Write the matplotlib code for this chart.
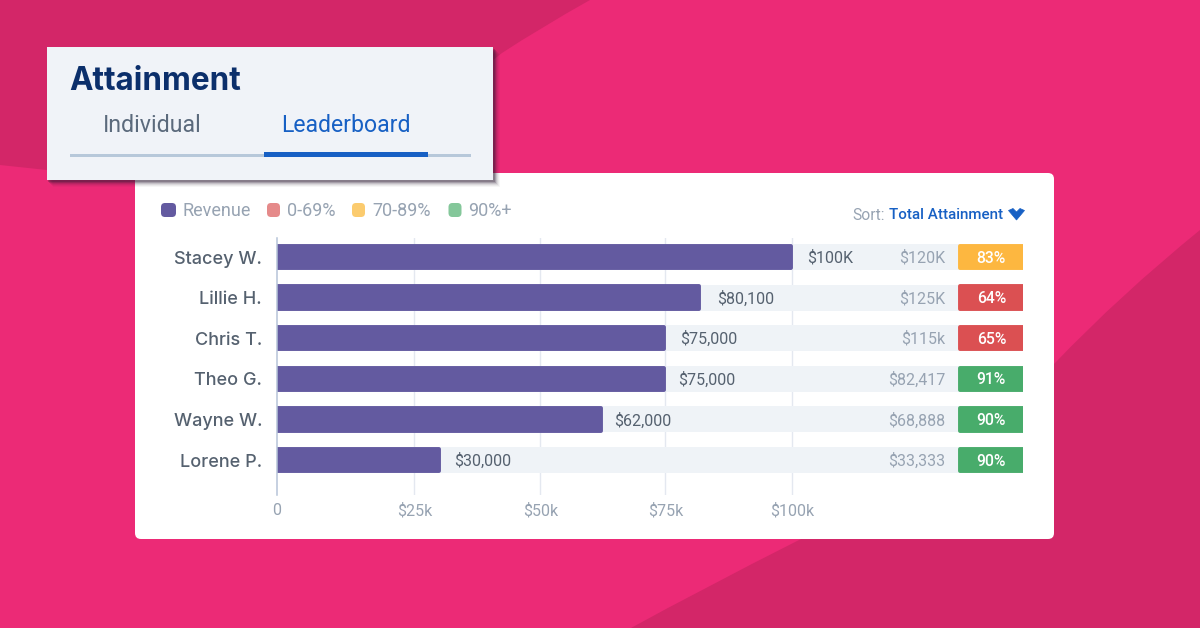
import numpy as np
import matplotlib
matplotlib.use("Agg")
import matplotlib.pyplot as plt
from matplotlib.patches import FancyBboxPatch, Polygon, Rectangle, PathPatch
from matplotlib.path import Path

# ---- data ----
names = ["Stacey W.", "Lillie H.", "Chris T.", "Theo G.", "Wayne W.", "Lorene P."]
revenue = [100000, 81900, 75000, 75000, 62400, 30200]
revenue_labels = ["$100K", "$80,100", "$75,000", "$75,000", "$62,000", "$30,000"]
target_labels = ["$120K", "$125K", "$115k", "$82,417", "$68,888", "$33,333"]
attainment = [83, 64, 65, 91, 90, 90]
tick_values = [0, 25000, 50000, 75000, 100000]
tick_labels = ["0", "$25k", "$50k", "$75k", "$100k"]
legend_labels = ["Revenue", "0-69%", "70-89%", "90%+"]
track_end = 144800
badge_start = 132000

PINK, DARK = "#EC2A76", "#D32668"
PURPLE = "#635AA0"
TRACK = "#EFF3F7"
GREY = "#97A3B2"
SLATE = "#55616F"
BLUE = "#1760C4"
NAVY = "#0B2F6B"

def badge_color(p):
    return "#DB5052" if p < 70 else ("#FDB740" if p < 90 else "#48AC6B")

fig = plt.figure(figsize=(12, 6.28), dpi=100)
fig.patch.set_facecolor(PINK)

# page layer in pixel coordinates
bg = fig.add_axes([0, 0, 1, 1])
bg.set_xlim(0, 1200)
bg.set_ylim(628, 0)
bg.axis("off")

bg.add_patch(PathPatch(Path(
    [(0, 0), (590, 0), (540, 28), (502, 53), (493, 60), (493, 170), (47, 170), (0, 165), (0, 0)],
    [Path.MOVETO, Path.LINETO, Path.CURVE3, Path.CURVE3, Path.LINETO, Path.LINETO, Path.LINETO, Path.LINETO, Path.CLOSEPOLY]),
    fc=DARK, ec="none"))
bg.add_patch(PathPatch(Path(
    [(1200, 230), (1120, 295), (1055, 363), (930, 480), (799, 540), (700, 590), (631, 628),
     (1200, 628), (1200, 230)],
    [Path.MOVETO, Path.CURVE3, Path.CURVE3, Path.CURVE3, Path.CURVE3, Path.CURVE3, Path.CURVE3,
     Path.LINETO, Path.CLOSEPOLY]),
    fc=DARK, ec="none"))

# chart card
bg.add_patch(FancyBboxPatch((139, 177), 911, 358, boxstyle="round,pad=4,rounding_size=6",
                            fc="white", ec="none"))

# header card with soft shadow
for off, a in [(7, 0.04), (6, 0.06), (5, 0.08), (4, 0.12), (3, 0.2), (2, 0.25)]:
    bg.add_patch(Rectangle((47 + off - 1, 47 + off), 446 + 1, 133, fc="#2A1A30", ec="none", alpha=a))
bg.add_patch(Rectangle((47, 47), 446, 133, fc="#F0F3F8", ec="none"))
bg.text(69.5, 81.5, "Attainment", family="Inter", weight="bold", fontsize=22.7, color=NAVY,
        va="center", ha="left")
bg.text(103, 125.5, "Individual", family="Roboto", fontsize=16.7, color="#5B6A7C", va="center", ha="left")
bg.text(281.5, 125.5, "Leaderboard", family="Roboto", fontsize=16.6, color=BLUE, va="center", ha="left")
bg.add_patch(Rectangle((70, 154), 401, 2.5, fc="#B7C8DA", ec="none"))
bg.add_patch(Rectangle((264, 151.5), 164, 5.5, fc=BLUE, ec="none"))

# legend
legend_swatches = [PURPLE, "#E58A8A", "#FBCB6E", "#84C79A"]
swatch_x = [161, 267, 352, 448.5]
label_x = [183, 287, 372, 468]
for col, sx, lx, lab in zip(legend_swatches, swatch_x, label_x, legend_labels):
    bg.add_patch(FancyBboxPatch((sx + 4, 207), 7 if col == PURPLE else 5, 6,
                                boxstyle="round,pad=4,rounding_size=4", fc=col, ec="none"))
    bg.text(lx, 210.5, lab, family="Roboto", fontsize=13, color=GREY, va="center", ha="left")

# sort control
bg.text(852, 215, "Sort:", family="Roboto", fontsize=11.2, color=GREY, va="center", ha="left")
bg.text(889, 215, "Total Attainment", family="Roboto", weight="medium", fontsize=10.9, color=BLUE,
        va="center", ha="left")
bg.add_patch(Polygon([(1008.5, 210.5), (1013, 208.5), (1016.5, 212), (1020, 208.5), (1024.5, 210.5), (1016.5, 220)],
                     closed=True, fc=BLUE, ec=BLUE, lw=0.5))

# chart axes: the reference's axis is slightly uneven, so use its own tick spacing
knots_val = [0, 25000, 50000, 75000, 100000, track_end]
knots_pos = [0, 137.5, 263.5, 388.5, 515.5, 746.5]
fwd = lambda v: np.interp(v, knots_val, knots_pos)
inv = lambda p: np.interp(p, knots_pos, knots_val)

ax = fig.add_axes([276.8 / 1200, 1 - 495 / 628, 746.5 / 1200, 257 / 628])
ax.set_xscale("function", functions=(fwd, inv))
ax.set_xlim(0, track_end)
rows = np.arange(len(names))
ax.set_ylim(5.862, -0.468)
ax.patch.set_alpha(0)
for s in ["top", "right", "bottom"]:
    ax.spines[s].set_visible(False)
ax.spines["left"].set_color("#B6C4D8")
ax.spines["left"].set_linewidth(1.1)
ax.spines["left"].set_zorder(6)

ax.set_xticks(tick_values, tick_labels, family="Roboto", fontsize=11.5, color=GREY)
ax.set_yticks(rows, names, family="Inter", weight="medium", fontsize=13, color=SLATE)
ax.tick_params(axis="x", length=0, pad=5.5)
ax.tick_params(axis="y", length=0, pad=10.5)
ax.minorticks_off()
for v in tick_values[1:]:
    ax.axvline(v, color="#E4E8F0", lw=1.0, zorder=0)

h = 0.55
edge = dict(linewidth=2.8, joinstyle="round")
ax.barh(rows, [track_end] * len(rows), height=h + 0.09, color=TRACK, zorder=1)
ax.barh(rows, [r - 350 for r in revenue], height=h, color=PURPLE, edgecolor=PURPLE, zorder=3, **edge)
badge_cols = [badge_color(p) for p in attainment]
ax.barh(rows, [track_end - badge_start - 700] * len(rows), left=badge_start + 600, height=h,
        color=badge_cols, edgecolor=badge_cols, zorder=3, **edge)

label_gap = [15, 17, 15, 12.5, 12, 14]
badge_mid = inv((fwd(badge_start) + fwd(track_end)) / 2) + 200
for y, r, lab, tgt, p, gap in zip(rows, revenue, revenue_labels, target_labels, attainment, label_gap):
    ax.annotate(lab, (r, y), xytext=(gap, -1), textcoords="offset pixels", family="Roboto",
                fontsize=11.5, color=SLATE, va="center", ha="left", zorder=5)
    ax.annotate(tgt, (badge_start, y), xytext=(-12, -1), textcoords="offset pixels", family="Roboto",
                fontsize=11.5, color=GREY, va="center", ha="right", zorder=5)
    ax.annotate(f"{p}%", (badge_mid, y), xytext=(0, -1), textcoords="offset pixels", family="Roboto",
                weight="medium", fontsize=11.3, color="white", va="center", ha="center", zorder=5)

fig.savefig("out.png", dpi=100, facecolor=fig.get_facecolor())
